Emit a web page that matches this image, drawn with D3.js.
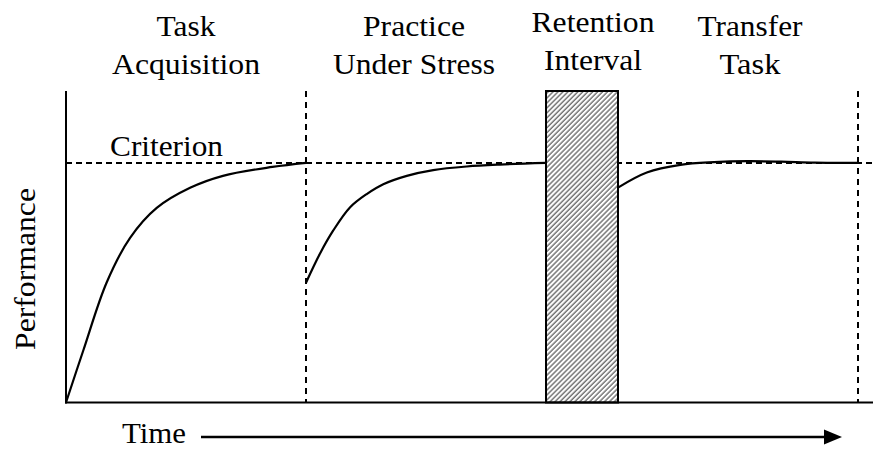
<!DOCTYPE html>
<html>
<head>
<meta charset="utf-8">
<script src="https://cdn.jsdelivr.net/npm/d3@7"></script>
<style>
  body { margin: 0; background: #fff; }
  svg text { font-family: "Liberation Serif", "Nimbus Roman", "FreeSerif", "Noto Serif", "DejaVu Serif", "Times New Roman", Times, serif; }
</style>
</head>
<body>
<div id="chart"></div>
<script>
// phases of the study (time units)
let phaseLabels = [["Task", "Acquisition"], ["Practice", "Under Stress"], ["Retention", "Interval"], ["Transfer", "Task"]];
let phaseBounds = [0, 10, 20, 23, 33];
let criterion = 100;

// performance curves [time, performance]
let acquisition = [[0, 0], [0.72, 21.7], [1.69, 50], [2.67, 68.7], [3.78, 81.2], [5.17, 89.6], [6.54, 94.6], [8.6, 98.3], [10, 100]];
let practice = [[10, 50], [10.58, 62.1], [11.13, 71.7], [11.83, 81.4], [12.53, 87], [13.22, 91.1], [14.2, 94.6], [15.3, 97], [16.7, 98.5], [18.08, 99.3], [20, 100]];
let transfer = [[23, 89.7], [24.2, 96], [25.6, 99.2], [27, 100.3], [28.4, 100.7], [29.8, 100.5], [31.2, 100.1], [33, 100]];

let svgWidth = 873;
let svgHeight = 450;

let svg = d3.select("#chart")
  .append("svg")
  .attr("width", svgWidth)
  .attr("height", svgHeight);

let x = d3.scaleLinear().domain([0, 33]).range([66, 858]);
let y = d3.scaleLinear().domain([0, 130]).range([402.5, 91]);

// hatch pattern for the retention interval
let defs = svg.append("defs");
defs.append("pattern")
  .attr("id", "hatch")
  .attr("patternUnits", "userSpaceOnUse")
  .attr("width", 3.5)
  .attr("height", 3.5)
  .attr("patternTransform", "rotate(45)")
  .call(p => {
    p.append("rect").attr("width", 3.5).attr("height", 3.5).attr("fill", "#fff");
    p.append("line").attr("x1", 1).attr("x2", 1).attr("y1", 0).attr("y2", 3.5)
      .attr("stroke", "#555").attr("stroke-width", 1.2);
  });

// criterion line
svg.append("line")
  .attr("x1", x(0)).attr("x2", svgWidth)
  .attr("y1", y(criterion)).attr("y2", y(criterion))
  .attr("stroke", "#000").attr("stroke-width", 2)
  .attr("stroke-dasharray", "6,4");

// phase dividers
svg.selectAll(".divider")
  .data([phaseBounds[1], phaseBounds[4]])
  .enter()
  .append("line")
  .attr("class", "divider")
  .attr("x1", d => x(d)).attr("x2", d => x(d))
  .attr("y1", y(130)).attr("y2", y(0))
  .attr("stroke", "#000").attr("stroke-width", 2)
  .attr("stroke-dasharray", "6,5");

// retention interval bar
svg.append("rect")
  .attr("x", x(phaseBounds[2]))
  .attr("y", y(130))
  .attr("width", x(phaseBounds[3]) - x(phaseBounds[2]))
  .attr("height", y(0) - y(130))
  .attr("fill", "url(#hatch)")
  .attr("stroke", "#000")
  .attr("stroke-width", 2);

// curves
let line = d3.line()
  .x(d => x(d[0]))
  .y(d => y(d[1]))
  .curve(d3.curveCatmullRom.alpha(0.5));

svg.selectAll(".curve")
  .data([acquisition, practice, transfer])
  .enter()
  .append("path")
  .attr("class", "curve")
  .attr("d", line)
  .attr("fill", "none")
  .attr("stroke", "#000")
  .attr("stroke-width", 2.2);

// axes
svg.append("line")
  .attr("x1", x(0)).attr("x2", x(0))
  .attr("y1", y(130)).attr("y2", y(0) + 1)
  .attr("stroke", "#000").attr("stroke-width", 2);
svg.append("line")
  .attr("x1", x(0) - 1).attr("x2", svgWidth)
  .attr("y1", y(0)).attr("y2", y(0))
  .attr("stroke", "#000").attr("stroke-width", 2);

let labelOffsets = [0, -12, 11, 12];
let labelShift = [0, 0, -4, 0];
let labelWidths = [[59, 148], [102, 162], [123, 98], [105, 61]];
phaseLabels.forEach((lines, i) => {
  let cx = (x(phaseBounds[i]) + x(phaseBounds[i + 1])) / 2 + labelOffsets[i];
  lines.forEach((s, j) => {
    svg.append("text")
      .attr("x", cx - labelWidths[i][j] / 2)
      .attr("y", 36 + j * 37.5 + labelShift[i])
      .attr("font-size", 29)
      .attr("textLength", labelWidths[i][j])
      .attr("lengthAdjust", "spacingAndGlyphs")
      .text(s);
  });
});

svg.append("text")
  .attr("x", 110)
  .attr("y", 156)
  .attr("font-size", 29)
  .attr("textLength", 113)
  .attr("lengthAdjust", "spacingAndGlyphs")
  .text("Criterion");

svg.append("text")
  .attr("transform", "translate(35, 350) rotate(-90)")
  .attr("font-size", 29)
  .attr("textLength", 162)
  .attr("lengthAdjust", "spacingAndGlyphs")
  .text("Performance");

svg.append("text")
  .attr("x", 122)
  .attr("y", 443)
  .attr("font-size", 29)
  .attr("textLength", 64)
  .attr("lengthAdjust", "spacingAndGlyphs")
  .text("Time");

// time arrow
svg.append("line")
  .attr("x1", 201).attr("x2", 828)
  .attr("y1", 437).attr("y2", 437)
  .attr("stroke", "#000").attr("stroke-width", 2.5);
svg.append("path")
  .attr("d", d3.line()([[824, 429.5], [842, 437], [824, 444.5]]) + "Z")
  .attr("fill", "#000");
</script>
</body>
</html>
